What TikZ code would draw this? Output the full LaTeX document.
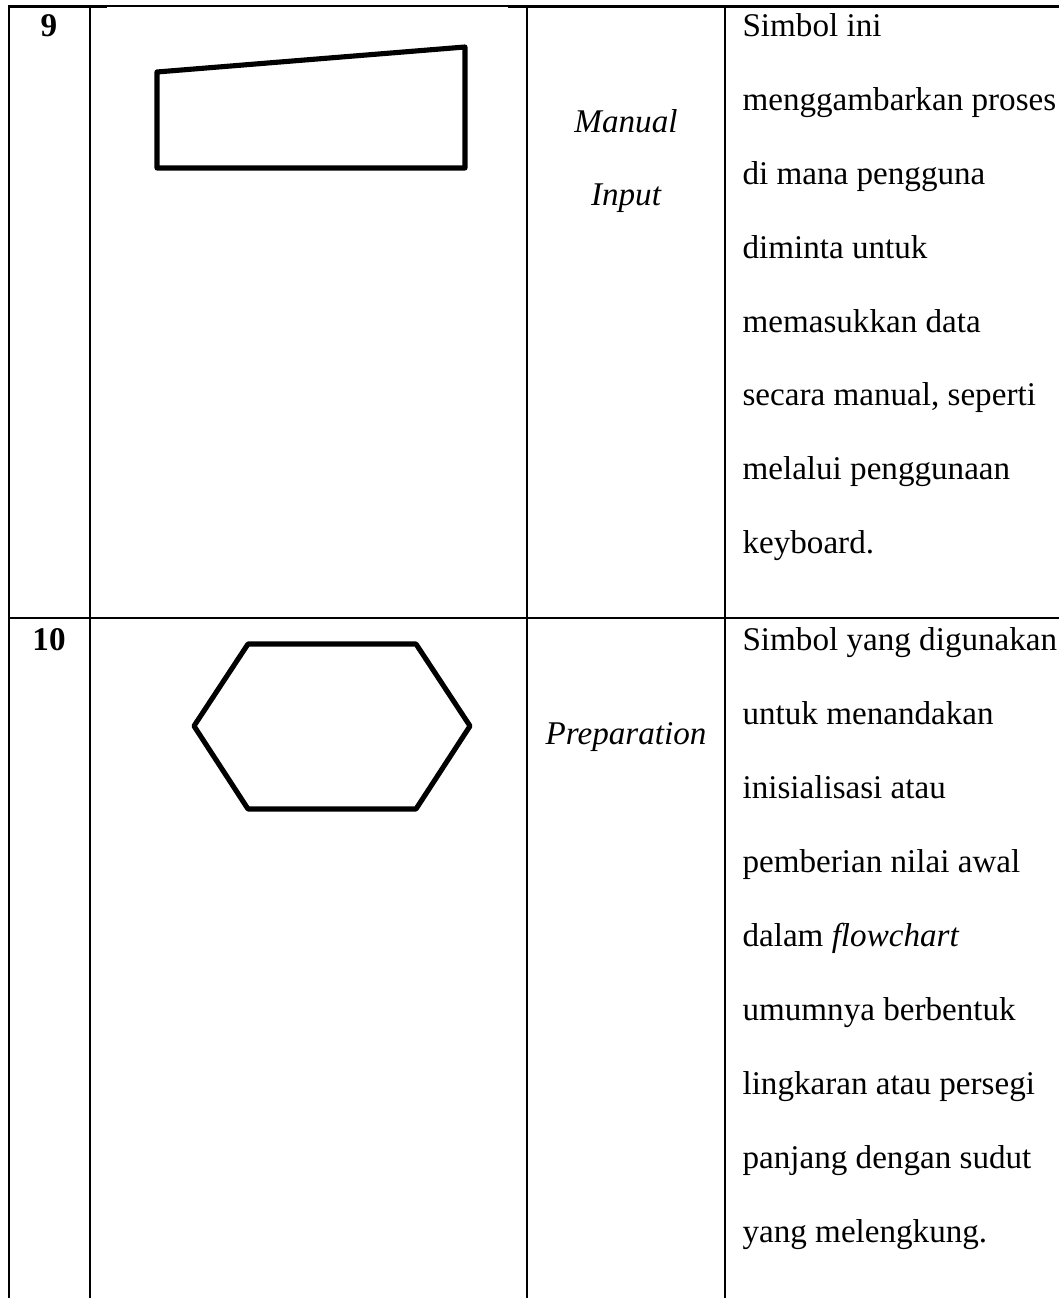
\documentclass[tikz,border=0pt]{standalone}
\usepackage{fontspec}
\setmainfont{Liberation Serif}
\begin{document}
\begin{tikzpicture}[x=0.3623pt,y=-0.3623pt,
  rule/.style={line width=0.75pt},
  toprule/.style={line width=1pt},
  hairrule/.style={line width=0.45pt},
  symb/.style={line width=1.85pt, line join=round, line cap=round},
  body/.style={anchor=base west, inner sep=0pt, font=\fontsize{12}{14}\selectfont},
  label/.style={anchor=base, inner sep=0pt, font=\fontsize{12}{14}\selectfont\itshape},
  num/.style={anchor=base, inner sep=0pt, font=\fontsize{12}{14}\selectfont\bfseries}]
\useasboundingbox (0,0) rectangle (1059,1298);

% table rules
\draw[toprule] (8,6.5) -- (107,6.5);
\draw[hairrule] (107,6) -- (508,6);
\draw[toprule] (508,6.5) -- (1059,6.5);
\draw[rule] (9,5.5) -- (9,1298);
\draw[rule] (90,5.5) -- (90,1298);
\draw[rule] (527,5.5) -- (527,1298);
\draw[rule] (725,5.5) -- (725,1298);
\draw[rule] (8,618) -- (1059,618);

% row 9: manual input
\node[num] (n9) at (49,37) {9};
\coordinate (mi-tl) at (157,72);
\coordinate (mi-tr) at (465,47);
\coordinate (mi-br) at (465,168);
\coordinate (mi-bl) at (157,168);
\draw[symb] (mi-tl) -- (mi-tr) -- (mi-br) -- (mi-bl) -- cycle;
\node[label] (l9a) at (626,133) {Manual};
\node[label] (l9b) at (626,206) {Input};
\foreach \t [count=\i from 0] in {Simbol ini, menggambarkan proses, di mana pengguna, diminta untuk, memasukkan data, {secara manual, seperti}, melalui penggunaan, keyboard.}
  \node[body] (d9-\i) at (742,{37+73.8*\i}) {\t};

% row 10: preparation
\node[num] (n10) at (49,650) {10};
\coordinate (hx-a) at (248,644);
\coordinate (hx-b) at (416,644);
\coordinate (hx-c) at (470,726);
\coordinate (hx-d) at (416,809);
\coordinate (hx-e) at (248,809);
\coordinate (hx-f) at (194,726);
\draw[symb] (hx-a) -- (hx-b) -- (hx-c) -- (hx-d) -- (hx-e) -- (hx-f) -- cycle;
\node[label] (l10) at (626,744) {Preparation};
\foreach \t [count=\i from 0] in {Simbol yang digunakan, untuk menandakan, inisialisasi atau, pemberian nilai awal, dalam \textit{flowchart}, umumnya berbentuk, lingkaran atau persegi, panjang dengan sudut, yang melengkung.}
  \node[body] (d10-\i) at (742,{650+74*\i}) {\t};
\end{tikzpicture}
\end{document}
